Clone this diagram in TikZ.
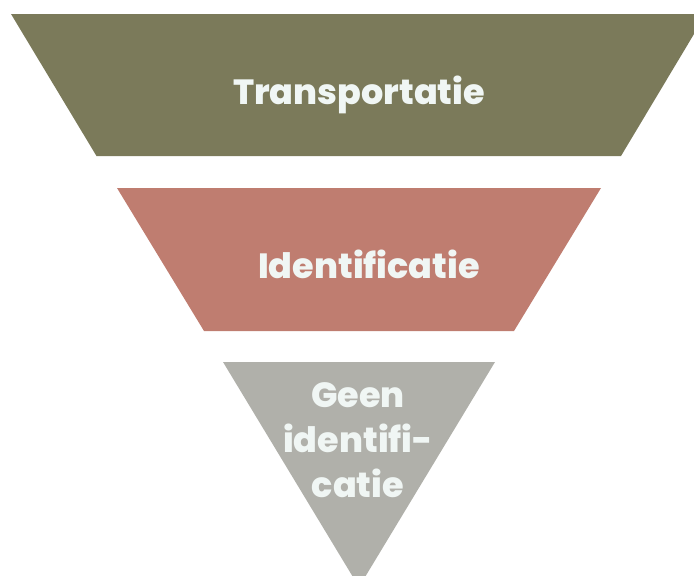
\documentclass[tikz,border=0pt]{standalone}
\usepackage{fontspec}
\setmainfont{Poppins}[BoldFont={Poppins ExtraBold}]
\usetikzlibrary{positioning}
\definecolor{olive}{RGB}{123, 122, 90}
\definecolor{rose}{RGB}{191, 125, 112}
\definecolor{stone}{RGB}{176, 176, 170}
\definecolor{chalk}{RGB}{240, 246, 244}
\tikzstyle{layer} = [draw=none]
\tikzstyle{label} = [text=chalk, align=center, font=\bfseries\fontsize{35}{45}\selectfont, inner sep=0pt]

\begin{document}
\begin{tikzpicture}[x=1pt, y=-1pt]

\useasboundingbox (0,0) rectangle (694,576);
\clip (0,0) rectangle (694,576);

% funnel layers =============================

% top layer
\coordinate (t1) at (11,14);
\coordinate (t2) at (706,14);
\coordinate (t3) at (621,156);
\coordinate (t4) at (96.5,156);
\fill[layer, olive] (t1) -- (t2) -- (t3) -- (t4) -- cycle;

% middle layer
\coordinate (m1) at (117,188);
\coordinate (m2) at (601,188);
\coordinate (m3) at (514,331);
\coordinate (m4) at (204,331);
\fill[layer, rose] (m1) -- (m2) -- (m3) -- (m4) -- cycle;

% bottom layer
\coordinate (b1) at (223,362);
\coordinate (b2) at (495,362);
\coordinate (b3) at (359,587);
\fill[layer, stone] (b1) -- (b2) -- (b3) -- cycle;

% text only
\node[label] (transport) at (359,95) {Transportatie};
\node[label] (ident) at (369,264) {Identificatie};
\node[label] (geen) at (358,440) {Geen\\ identifi-\\ catie};

\end{tikzpicture}
\end{document}
